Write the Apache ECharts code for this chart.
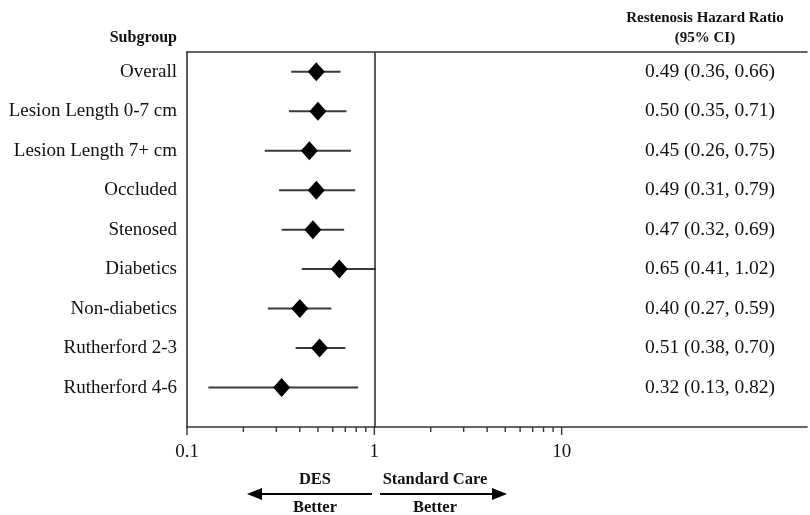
<!DOCTYPE html>
<html><head><meta charset="utf-8">
<script src="https://cdn.jsdelivr.net/npm/echarts@6/dist/echarts.min.js"></script>
<style>html,body{margin:0;padding:0;background:#fff}#c{width:810px;height:515px}</style>
</head><body><div id="c"></div>
<script>
var subgroups = ['Overall','Lesion Length 0-7 cm','Lesion Length 7+ cm','Occluded','Stenosed','Diabetics','Non-diabetics','Rutherford 2-3','Rutherford 4-6'];
var hr    = [0.49,0.50,0.45,0.49,0.47,0.65,0.40,0.51,0.32];
var ciLow = [0.36,0.35,0.26,0.31,0.32,0.41,0.27,0.38,0.13];
var ciHigh= [0.66,0.71,0.75,0.79,0.69,1.02,0.59,0.70,0.82];
var xTickLabels = {'0.1':'0.1','1':'1','10':'10'};
var majorTicks = [0.1,1,10];
var minorTicks = [0.2,0.3,0.4,0.5,0.6,0.7,0.8,0.9,2,3,4,5,6,7,8,9];

var FONT = '"Liberation Serif","Times New Roman",serif';
function rowY(i){ return 2*i+1; }
var labelByY = {}; var ciTextByY = {};
subgroups.forEach(function(s,i){
  labelByY[rowY(i)] = s;
  ciTextByY[rowY(i)] = hr[i].toFixed(2)+' ('+ciLow[i].toFixed(2)+', '+ciHigh[i].toFixed(2)+')';
});

var chart = echarts.init(document.getElementById('c'));
var xMin = 0.1, xMax = 204;
var yMax = 2*subgroups.length+1;
var ticksData = majorTicks.map(function(v){return [v,1];}).concat(minorTicks.map(function(v){return [v,0];}));

chart.setOption({
  animation:false,
  grid:{left:187, right:0, top:52, bottom:88},
  xAxis:[{
    type:'log', logBase:10, min:xMin, max:xMax, position:'bottom',
    axisLine:{show:true, onZero:false, lineStyle:{color:'#333', width:1.6}},
    axisTick:{show:false}, splitLine:{show:false}, minorTick:{show:false},
    axisLabel:{show:true, margin:16, fontFamily:FONT, fontSize:19, color:'#111',
      formatter:function(v){ var k = String(+v.toPrecision(3)); return xTickLabels[k]||''; }}
  },{
    type:'log', logBase:10, min:xMin, max:xMax, position:'top',
    axisLine:{show:true, onZero:false, lineStyle:{color:'#333', width:1.6}},
    axisTick:{show:false}, axisLabel:{show:false}, splitLine:{show:false}
  }],
  yAxis:[{
    type:'value', inverse:true, min:0, max:yMax, interval:1, position:'left',
    axisLine:{show:true, onZero:false, lineStyle:{color:'#333', width:1.6}},
    axisTick:{show:false}, splitLine:{show:false},
    axisLabel:{margin:10, fontFamily:FONT, fontSize:19, color:'#111', hideOverlap:false,
      formatter:function(v){ return labelByY[v]||''; }}
  },{
    type:'value', inverse:true, min:0, max:yMax, interval:1, position:'right', offset:-97,
    axisLine:{show:false}, axisTick:{show:false}, splitLine:{show:false},
    axisLabel:{margin:0, align:'center', fontFamily:FONT, fontSize:19.5, color:'#111', hideOverlap:false,
      formatter:function(v){ return ciTextByY[v]||''; }}
  }],
  series:[{
    type:'custom', xAxisIndex:0, yAxisIndex:0, clip:false, silent:true,
    data: subgroups.map(function(s,i){ return [ciLow[i], ciHigh[i], rowY(i)]; }),
    renderItem:function(params, api){
      var a = api.coord([api.value(0), api.value(2)]);
      var b = api.coord([api.value(1), api.value(2)]);
      return {type:'line', shape:{x1:a[0],y1:a[1],x2:b[0],y2:b[1]}, style:{stroke:'#3a3a3a', lineWidth:2}};
    },
    markLine:{silent:true, symbol:'none', label:{show:false},
      lineStyle:{color:'#333', width:1.6, type:'solid'}, data:[{xAxis:1}]}
  },{
    type:'scatter', xAxisIndex:0, yAxisIndex:0, symbol:'diamond', symbolSize:[17,19],
    itemStyle:{color:'#000', opacity:1}, silent:true,
    data: subgroups.map(function(s,i){ return [hr[i], rowY(i)]; }),
    z:5
  },{
    type:'custom', xAxisIndex:0, yAxisIndex:0, clip:false, silent:true,
    data: ticksData.map(function(d){ return [d[0], yMax, d[1]]; }),
    renderItem:function(params, api){
      var p = api.coord([api.value(0), api.value(1)]);
      var len = api.value(2) ? 8 : 5;
      return {type:'line', shape:{x1:p[0],y1:p[1],x2:p[0],y2:p[1]+len}, style:{stroke:'#333', lineWidth:1.4}};
    }
  }],
  graphic:[
    {type:'text', x:177, y:38, style:{text:'Subgroup', font:'bold 16px '+FONT, fill:'#111', align:'right', verticalAlign:'middle'}},
    {type:'text', x:705, y:18, style:{text:'Restenosis Hazard Ratio', font:'bold 15px '+FONT, fill:'#111', align:'center', verticalAlign:'middle'}},
    {type:'text', x:705, y:38, style:{text:'(95% CI)', font:'bold 15px '+FONT, fill:'#111', align:'center', verticalAlign:'middle'}},
    {type:'text', x:315, y:480, style:{text:'DES', font:'bold 16.5px '+FONT, fill:'#111', align:'center', verticalAlign:'middle'}},
    {type:'text', x:435, y:480, style:{text:'Standard Care', font:'bold 16.5px '+FONT, fill:'#111', align:'center', verticalAlign:'middle'}},
    {type:'text', x:315, y:508, style:{text:'Better', font:'bold 16.5px '+FONT, fill:'#111', align:'center', verticalAlign:'middle'}},
    {type:'text', x:435, y:508, style:{text:'Better', font:'bold 16.5px '+FONT, fill:'#111', align:'center', verticalAlign:'middle'}},
    {type:'line', shape:{x1:372,y1:494,x2:260,y2:494}, style:{stroke:'#000', lineWidth:2}},
    {type:'polygon', shape:{points:[[247,494],[262,488],[262,500]]}, style:{fill:'#000'}},
    {type:'line', shape:{x1:380,y1:494,x2:493,y2:494}, style:{stroke:'#000', lineWidth:2}},
    {type:'polygon', shape:{points:[[507,494],[492,488],[492,500]]}, style:{fill:'#000'}}
  ]
});
</script></body></html>
